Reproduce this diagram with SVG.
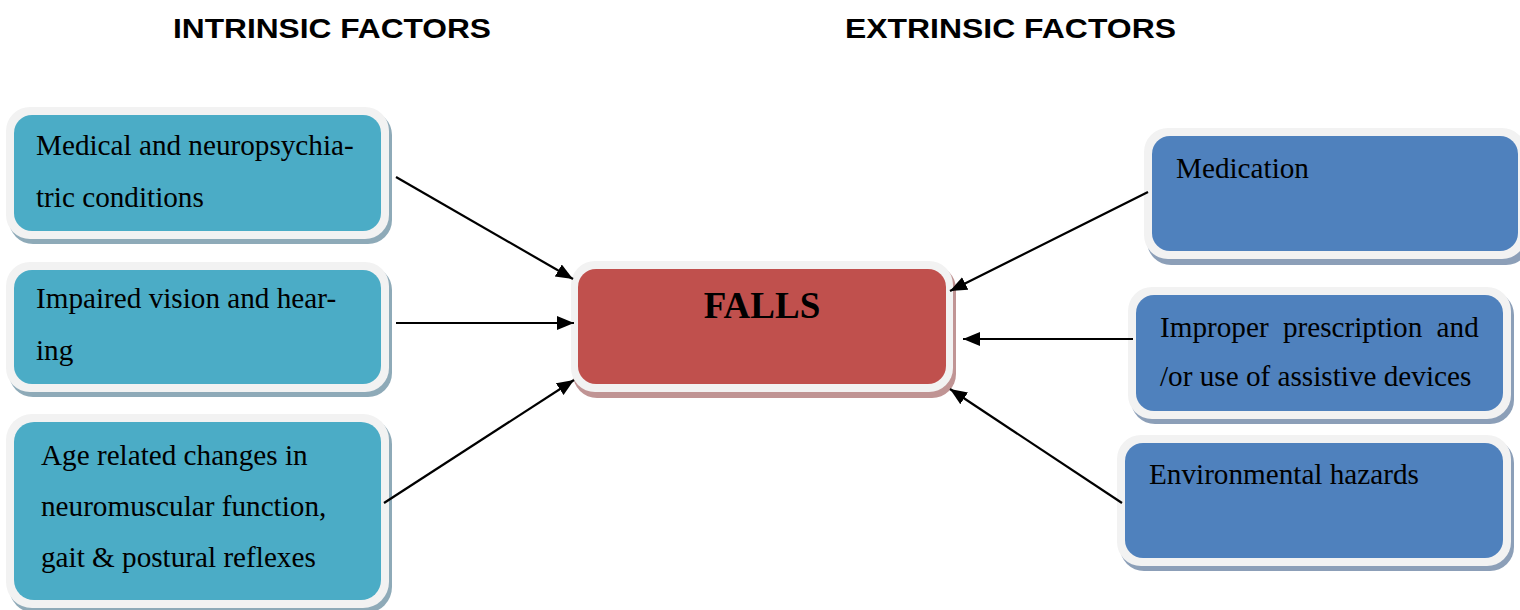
<svg xmlns="http://www.w3.org/2000/svg" width="1520" height="610" viewBox="0 0 1520 610">
<style>
.hdr{font-family:"Liberation Sans",Arial,sans-serif;font-weight:bold;font-size:27px;fill:#000}
.t{font-family:"Liberation Serif","Times New Roman",serif;font-size:29.2px;fill:#000}
.big{font-family:"Liberation Serif","Times New Roman",serif;font-size:37px;font-weight:bold;fill:#000}
.rim{fill:#f2f2f2}
.shL{fill:#8eaab8}
.shR{fill:#8c9fb8}
.shF{fill:#c09494}
.teal{fill:#4bacc6}
.blue{fill:#4f81bd}
.red{fill:#c0504d}
.conn line{stroke:#000;stroke-width:2.2;marker-end:url(#ah)}
</style>
<defs>
<marker id="ah" markerUnits="userSpaceOnUse" markerWidth="18" markerHeight="15" refX="17" refY="7" orient="auto">
<path d="M0,0 L17,7 L0,14 z" fill="#000"/>
</marker>
</defs>
<rect width="1520" height="610" fill="#fff"/>
<text class="hdr" x="173" y="38" textLength="318" lengthAdjust="spacingAndGlyphs">INTRINSIC FACTORS</text>
<text class="hdr" x="845" y="38" textLength="331" lengthAdjust="spacingAndGlyphs">EXTRINSIC FACTORS</text>

<g id="n-medical">
<rect class="shL" x="9" y="111" width="383" height="133" rx="24"/>
<rect class="rim" x="6" y="107" width="383" height="132" rx="24"/>
<rect class="teal" x="14" y="115" width="367" height="116" rx="18"/>
<text class="t" x="36" y="155">Medical and neuropsychia-</text>
<text class="t" x="36" y="207">tric conditions</text>
</g>
<g id="n-vision">
<rect class="shL" x="9" y="266" width="383" height="131" rx="24"/>
<rect class="rim" x="6" y="262" width="383" height="130" rx="24"/>
<rect class="teal" x="14" y="270" width="367" height="114" rx="18"/>
<text class="t" x="36" y="308">Impaired vision and hear-</text>
<text class="t" x="36" y="360">ing</text>
</g>
<g id="n-age">
<rect class="shL" x="9" y="418" width="383" height="195" rx="26"/>
<rect class="rim" x="6" y="414" width="383" height="194" rx="26"/>
<rect class="teal" x="14" y="422" width="367" height="178" rx="20"/>
<text class="t" x="41" y="465">Age related changes in</text>
<text class="t" x="41" y="516">neuromuscular function,</text>
<text class="t" x="41" y="567">gait &amp; postural reflexes</text>
</g>
<g id="n-falls">
<rect class="shF" x="573" y="265" width="383" height="133" rx="24"/>
<rect class="rim" x="571" y="261" width="382" height="131" rx="24"/>
<rect class="red" x="578" y="269" width="368" height="115" rx="18"/>
<text class="big" x="762" y="318" text-anchor="middle">FALLS</text>
</g>
<g id="n-medication">
<rect class="shR" x="1147" y="132" width="383" height="133" rx="24"/>
<rect class="rim" x="1144" y="128" width="382" height="131" rx="24"/>
<rect class="blue" x="1152" y="136" width="366" height="115" rx="18"/>
<text class="t" x="1176" y="178">Medication</text>
</g>
<g id="n-improper">
<rect class="shR" x="1131" y="291" width="383" height="133" rx="24"/>
<rect class="rim" x="1128" y="287" width="383" height="132" rx="24"/>
<rect class="blue" x="1136" y="295" width="367" height="116" rx="18"/>
<text class="t" x="1160" y="337" word-spacing="7">Improper prescription and</text>
<text class="t" x="1160" y="386">/or use of assistive devices</text>
</g>
<g id="n-env">
<rect class="shR" x="1120" y="439" width="394" height="132" rx="24"/>
<rect class="rim" x="1117" y="435" width="394" height="131" rx="24"/>
<rect class="blue" x="1125" y="443" width="378" height="115" rx="18"/>
<text class="t" x="1149" y="484">Environmental hazards</text>
</g>

<g id="connectors" class="conn">
<line x1="396" y1="177" x2="573" y2="279"/>
<line x1="396" y1="323" x2="574" y2="323"/>
<line x1="384" y1="503" x2="574" y2="380"/>
<line x1="1148" y1="192" x2="950" y2="291"/>
<line x1="1133" y1="339" x2="963" y2="339"/>
<line x1="1122" y1="503" x2="950" y2="389"/>
</g>
</svg>
